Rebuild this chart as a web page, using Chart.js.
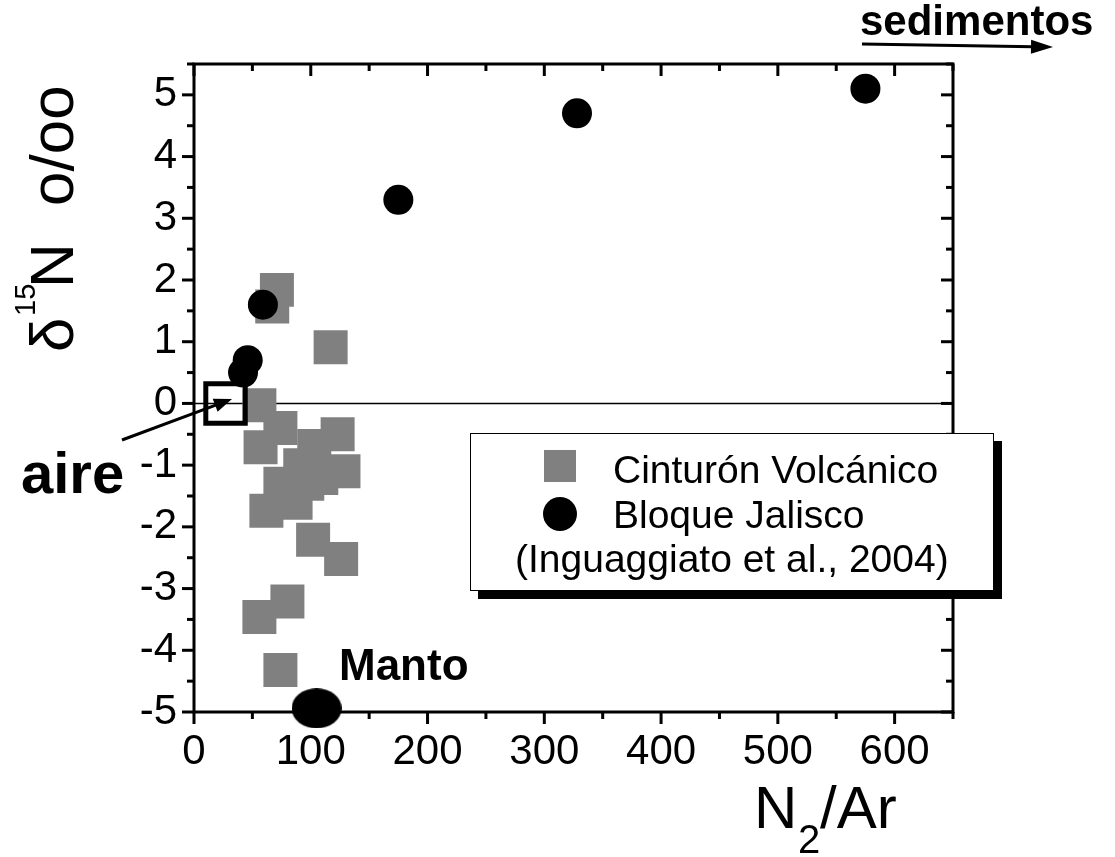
<!DOCTYPE html>
<html><head><meta charset="utf-8">
<script src="https://cdn.jsdelivr.net/npm/chart.js@4.4.0/dist/chart.umd.min.js"></script>
<style>html,body{margin:0;padding:0;background:#fff;}#wrap{width:1115px;height:857px;}</style>
</head><body><div id="wrap"><canvas id="c" width="1115" height="857"></canvas></div>
<script>
// ---- data ----
const xTickValues = [0, 100, 200, 300, 400, 500, 600];
const xMinorTicks = [50, 150, 250, 350, 450, 550, 650];
const yTickValues = [-5, -4, -3, -2, -1, 0, 1, 2, 3, 4, 5];
const yMinorTicks = [-4.5, -3.5, -2.5, -1.5, -0.5, 0.5, 1.5, 2.5, 3.5, 4.5, 5.5];
const cinturonX = [71, 67, 117, 56, 57, 74, 123, 128, 103, 74, 62, 87, 97, 109, 102, 126, 80, 56, 74, 91];
const cinturonY = [1.84, 1.57, 0.91, -0.03, -0.71, -0.40, -0.50, -1.10, -0.69, -1.30, -1.74, -1.61, -1.30, -1.21, -2.21, -2.52, -3.21, -3.46, -4.32, -1.00];
const jaliscoX = [575, 328, 175, 59, 46, 42];
const jaliscoY = [5.1, 4.7, 3.3, 1.6, 0.7, 0.5];
const aireX = [27];
const aireY = [0];
const mantoX = [105];
const mantoY = [-4.94];
const legendLabels = ['Cinturón Volcánico', 'Bloque Jalisco', '(Inguaggiato et al., 2004)'];

const FONT = 'Liberation Sans, Arial, Helvetica, sans-serif';
const pts = (xs, ys) => xs.map((v, i) => ({x: v, y: ys[i]}));

// ellipse marker for "Manto"
const mantoImg = document.createElement('canvas');
mantoImg.width = 50; mantoImg.height = 40;
(function(){ const c = mantoImg.getContext('2d'); c.fillStyle = '#000'; c.beginPath(); c.ellipse(25, 20, 25, 20, 0, 0, Math.PI*2); c.fill(); })();

function line(ctx, x1, y1, x2, y2){ ctx.beginPath(); ctx.moveTo(x1, y1); ctx.lineTo(x2, y2); ctx.stroke(); }
function arrow(ctx, x1, y1, x2, y2, headLen, headHalf, lw){
  const ang = Math.atan2(y2 - y1, x2 - x1);
  const bx = x2 - headLen*Math.cos(ang), by = y2 - headLen*Math.sin(ang);
  ctx.lineWidth = lw; line(ctx, x1, y1, bx + 2*Math.cos(ang), by + 2*Math.sin(ang));
  ctx.beginPath(); ctx.moveTo(x2, y2);
  ctx.lineTo(bx + headHalf*Math.sin(ang), by - headHalf*Math.cos(ang));
  ctx.lineTo(bx - headHalf*Math.sin(ang), by + headHalf*Math.cos(ang));
  ctx.closePath(); ctx.fill();
}
function vtext(ctx, str, font, x, y){ ctx.save(); ctx.translate(x, y); ctx.rotate(-Math.PI/2); ctx.font = font; ctx.fillText(str, 0, 0); ctx.restore(); }

const frameTicks = {
  id: 'frameTicks',
  beforeDatasetsDraw(chart){
    const {ctx, chartArea: a, scales: {x, y}} = chart;
    ctx.save();
    ctx.strokeStyle = '#000'; ctx.lineCap = 'butt';
    ctx.lineWidth = 1.5;
    const y0 = y.getPixelForValue(0);
    line(ctx, a.left, y0, a.right, y0);
    ctx.lineWidth = 3;
    const draw = (vals, L) => {
      vals.forEach(v => { const px = x.getPixelForValue(v); line(ctx, px, a.bottom, px, a.bottom + L); line(ctx, px, a.top, px, a.top + L); });
    };
    draw(xTickValues, 12); draw(xMinorTicks, 7);
    const drawY = (vals, L) => {
      vals.forEach(v => { const py = y.getPixelForValue(v); line(ctx, a.left - L, py, a.left, py); line(ctx, a.right - L, py, a.right, py); });
    };
    drawY(yTickValues, 12); drawY(yMinorTicks, 7);
    ctx.strokeRect(a.left, a.top, a.right - a.left, a.bottom - a.top);
    ctx.restore();
  }
};

const annotations = {
  id: 'annotations',
  afterDraw(chart){
    const ctx = chart.ctx;
    ctx.save();
    ctx.fillStyle = '#000'; ctx.strokeStyle = '#000'; ctx.textBaseline = 'alphabetic'; ctx.textAlign = 'left';
    // legend
    ctx.fillRect(478, 441, 524, 158);
    ctx.fillStyle = '#fff'; ctx.fillRect(470, 433, 524, 158);
    ctx.lineWidth = 1; ctx.strokeRect(470.5, 433.5, 523, 157);
    ctx.fillStyle = '#808080'; ctx.fillRect(544, 450, 32, 32);
    ctx.fillStyle = '#000'; ctx.beginPath(); ctx.arc(560, 514, 17, 0, Math.PI*2); ctx.fill();
    ctx.font = '39px ' + FONT;
    ctx.fillText(legendLabels[0], 613, 483);
    ctx.fillText(legendLabels[1], 613, 528);
    ctx.fillText(legendLabels[2], 515, 572);
    // axis titles
    ctx.font = '60px ' + FONT;
    ctx.fillText('N', 754, 828);
    ctx.font = '40px ' + FONT;
    ctx.fillText('2', 798, 853);
    ctx.font = '60px ' + FONT;
    ctx.fillText('/Ar', 820, 828);
    vtext(ctx, 'δ', '62px ' + FONT, 73, 352);
    vtext(ctx, '15', '29px ' + FONT, 35, 316);
    vtext(ctx, 'N', '62px ' + FONT, 73, 288);
    vtext(ctx, 'o/oo', '62px ' + FONT, 73, 206);
    // labels
    ctx.font = 'bold 58px ' + FONT;
    ctx.fillText('aire', 21, 493);
    ctx.font = 'bold 44px ' + FONT;
    ctx.fillText('Manto', 339, 680);
    ctx.font = 'bold 42px ' + FONT;
    ctx.fillText('sedimentos', 860, 35);
    arrow(ctx, 122, 440, 232, 399, 18, 7, 3);
    arrow(ctx, 862, 44, 1053, 47, 22, 7, 3);
    ctx.restore();
  }
};

new Chart(document.getElementById('c'), {
  type: 'scatter',
  data: {
    datasets: [
      { label: legendLabels[0], data: pts(cinturonX, cinturonY), pointStyle: 'rect', pointRadius: 24.04, pointHoverRadius: 24.04,
        backgroundColor: '#808080', borderWidth: 0, order: 4, clip: false },
      { label: legendLabels[1], data: pts(jaliscoX, jaliscoY), pointStyle: 'circle', pointRadius: 15, pointHoverRadius: 15,
        backgroundColor: '#000', borderWidth: 0, order: 3, clip: false },
      { label: 'aire', data: pts(aireX, aireY), pointStyle: 'rect', pointRadius: 27.9, pointHoverRadius: 27.9,
        backgroundColor: 'rgba(0,0,0,0)', borderColor: '#000', borderWidth: 5, order: 2, clip: false },
      { label: 'Manto', data: pts(mantoX, mantoY), pointStyle: mantoImg, pointRadius: 20, pointHoverRadius: 20,
        backgroundColor: '#000', borderWidth: 0, order: 1, clip: false }
    ]
  },
  options: {
    responsive: false, animation: false, devicePixelRatio: 1,
    layout: { padding: { left: 0, top: 64, right: 162, bottom: 0 } },
    plugins: { legend: { display: false }, tooltip: { enabled: false } },
    events: [],
    scales: {
      x: {
        type: 'linear', min: 0, max: 650,
        grid: { display: false, drawTicks: false }, border: { display: false },
        afterBuildTicks: s => { s.ticks = xTickValues.map(v => ({value: v})); },
        afterFit: s => { s.height = 145; },
        ticks: { color: '#000', padding: 15, maxRotation: 0, autoSkip: false, font: { family: FONT, size: 42 }, callback: v => String(v) }
      },
      y: {
        type: 'linear', min: -5, max: 5.5,
        grid: { display: false, drawTicks: false }, border: { display: false },
        afterBuildTicks: s => { s.ticks = yTickValues.map(v => ({value: v})); },
        afterFit: s => { s.width = 194; },
        ticks: { color: '#000', padding: 17, autoSkip: false, font: { family: FONT, size: 42 }, callback: v => String(v) }
      }
    }
  },
  plugins: [frameTicks, annotations]
});
</script></body></html>
